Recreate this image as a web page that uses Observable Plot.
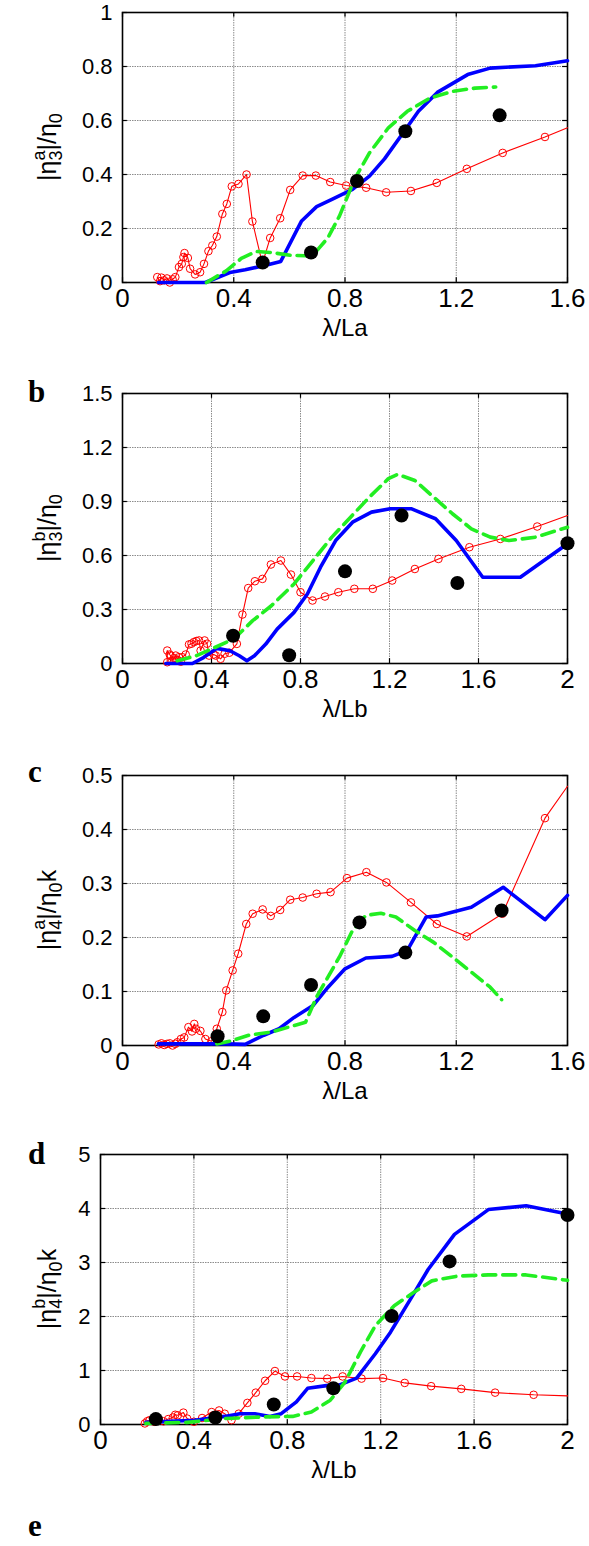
<!DOCTYPE html>
<html><head><meta charset="utf-8">
<script src="https://cdn.jsdelivr.net/npm/d3@7"></script>
<script src="https://cdn.jsdelivr.net/npm/@observablehq/plot@0.6"></script>
<style>
body{margin:0;background:#fff;}
#root{position:relative;width:589px;height:1546px;overflow:hidden;background:#fff}
.panel{position:absolute;left:0}
.letter{position:absolute;font-family:"Liberation Serif","Times New Roman",serif;font-weight:bold;font-size:31px;line-height:1}
</style></head><body><div id="root"></div>
<script>
// ---------- Panel a : |η3a|/η0 vs λ/La ----------
const aXTicks = [0, 0.4, 0.8, 1.2, 1.6];
const aYTicks = [0, 0.2, 0.4, 0.6, 0.8, 1];
const aBlueX = [0.129,0.298,0.386,0.441,0.508,0.569,0.644,0.698,0.753,0.827,0.888,0.942,1.017,1.064,1.132,1.241,1.322,1.485,1.6];
const aBlueY = [0,0,0.037,0.047,0.062,0.078,0.228,0.281,0.308,0.345,0.394,0.458,0.566,0.634,0.704,0.770,0.794,0.803,0.821];
const aGreenX = [0.302,0.373,0.427,0.481,0.536,0.603,0.658,0.698,0.739,0.780,0.834,0.888,0.956,1.024,1.105,1.186,1.268,1.342];
const aGreenY = [0,0.043,0.089,0.115,0.111,0.101,0.099,0.117,0.166,0.246,0.382,0.480,0.573,0.634,0.683,0.708,0.720,0.724];
const aRedX = [0.125,0.135,0.14,0.15,0.16,0.17,0.18,0.19,0.203,0.213,0.219,0.223,0.235,0.243,0.261,0.279,0.293,0.309,0.323,0.339,0.359,0.375,0.393,0.417,0.446,0.467,0.503,0.531,0.567,0.603,0.648,0.695,0.747,0.804,0.876,0.948,1.037,1.130,1.238,1.367,1.519];
const aRedY = [0.02,0.005,0.018,0.008,0.015,0.0,0.012,0.02,0.057,0.069,0.094,0.109,0.091,0.051,0.030,0.038,0.069,0.116,0.137,0.170,0.254,0.291,0.356,0.365,0.400,0.226,0.07,0.165,0.238,0.343,0.396,0.396,0.372,0.359,0.351,0.334,0.339,0.369,0.421,0.480,0.539];
const aRedEnd = [1.6, 0.573];
const aDotX = [0.504,0.678,0.843,1.017,1.356];
const aDotY = [0.074,0.111,0.376,0.560,0.619];

// ---------- Panel b : |η3b|/η0 vs λ/Lb ----------
const bXTicks = [0, 0.4, 0.8, 1.2, 1.6, 2];
const bYTicks = [0, 0.3, 0.6, 0.9, 1.2, 1.5];
const bBlueX = [0.195,0.314,0.364,0.424,0.483,0.525,0.559,0.593,0.644,0.695,0.771,0.831,0.890,0.958,1.034,1.119,1.203,1.297,1.407,1.5,1.619,1.788,2.0];
const bBlueY = [0,0,0.033,0.084,0.071,0.043,0.015,0.043,0.108,0.191,0.284,0.386,0.535,0.683,0.785,0.841,0.860,0.860,0.804,0.683,0.479,0.479,0.665];
const bGreenX = [0.246,0.331,0.415,0.5,0.585,0.669,0.771,0.856,0.941,1.025,1.110,1.195,1.237,1.314,1.398,1.483,1.568,1.653,1.737,1.856,2.0];
const bGreenY = [0.015,0.043,0.089,0.136,0.238,0.321,0.442,0.572,0.702,0.813,0.925,1.027,1.051,1.017,0.925,0.832,0.748,0.702,0.683,0.702,0.757];
const bRedX = [0.201,0.201,0.212,0.216,0.224,0.232,0.239,0.247,0.254,0.262,0.269,0.284,0.299,0.31,0.321,0.332,0.344,0.351,0.369,0.38,0.389,0.41,0.419,0.441,0.459,0.48,0.514,0.539,0.565,0.595,0.629,0.667,0.712,0.757,0.800,0.854,0.910,0.970,1.042,1.125,1.212,1.314,1.420,1.559,1.698,1.864];
const bRedY = [0.007,0.072,0.05,0.044,0.017,0.03,0.044,0.02,0.035,0.01,0.035,0.05,0.106,0.11,0.119,0.125,0.128,0.072,0.128,0.11,0.044,0.05,0.044,0.026,0.054,0.06,0.109,0.272,0.419,0.457,0.470,0.550,0.572,0.494,0.396,0.350,0.372,0.396,0.415,0.415,0.461,0.525,0.581,0.646,0.692,0.761];
const bRedEnd = [2.0, 0.822];
const bDotX = [0.497,0.749,1.0,1.254,1.505,2.0];
const bDotY = [0.154,0.046,0.512,0.822,0.447,0.668];

// ---------- Panel c : |η4a|/η0k vs λ/La ----------
const cXTicks = [0, 0.4, 0.8, 1.2, 1.6];
const cYTicks = [0, 0.1, 0.2, 0.3, 0.4, 0.5];
const cBlueX = [0.129,0.373,0.441,0.508,0.563,0.617,0.685,0.739,0.800,0.875,0.969,1.024,1.092,1.132,1.254,1.369,1.519,1.6];
const cBlueY = [0.003,0.003,0.002,0.019,0.031,0.052,0.074,0.108,0.142,0.162,0.165,0.176,0.238,0.240,0.256,0.293,0.233,0.278];
const cGreenX = [0.339,0.386,0.454,0.536,0.617,0.658,0.698,0.739,0.780,0.827,0.875,0.929,0.983,1.051,1.119,1.186,1.254,1.322,1.363];
const cGreenY = [0.003,0.008,0.019,0.025,0.037,0.043,0.090,0.127,0.164,0.213,0.241,0.245,0.238,0.213,0.191,0.164,0.136,0.108,0.085];
const cRedX = [0.13,0.14,0.15,0.16,0.17,0.18,0.19,0.197,0.21,0.222,0.237,0.25,0.258,0.264,0.28,0.298,0.32,0.339,0.359,0.373,0.396,0.416,0.445,0.468,0.504,0.533,0.567,0.603,0.648,0.698,0.748,0.807,0.877,0.949,1.037,1.130,1.238,1.366,1.519];
const cRedY = [0.002,0.004,0.001,0.003,0.004,0.0,0.003,0.006,0.012,0.015,0.034,0.026,0.04,0.031,0.027,0.012,0.008,0.031,0.062,0.102,0.139,0.170,0.225,0.244,0.252,0.240,0.251,0.270,0.274,0.281,0.284,0.310,0.321,0.302,0.265,0.225,0.202,0.244,0.421];
const cRedEnd = [1.6, 0.48];
const cDotX = [0.342,0.506,0.678,0.852,1.017,1.363];
const cDotY = [0.017,0.054,0.112,0.228,0.172,0.250];

// ---------- Panel d : |η4b|/η0k vs λ/Lb ----------
const dXTicks = [0, 0.4, 0.8, 1.2, 1.6, 2];
const dYTicks = [0, 1, 2, 3, 4, 5];
const dBlueX = [0.194,0.403,0.532,0.597,0.661,0.726,0.774,0.839,0.887,0.968,1.016,1.097,1.177,1.242,1.323,1.403,1.516,1.661,1.823,2.0];
const dBlueY = [0.04,0.08,0.15,0.20,0.20,0.15,0.20,0.42,0.67,0.72,0.72,0.86,1.31,1.71,2.29,2.87,3.52,3.98,4.05,3.90];
const dGreenX = [0.194,0.371,0.532,0.694,0.823,0.903,0.984,1.048,1.113,1.177,1.258,1.339,1.419,1.532,1.661,1.823,2.0];
const dGreenY = [0.02,0.04,0.11,0.14,0.15,0.23,0.45,0.79,1.34,1.83,2.20,2.44,2.66,2.75,2.77,2.77,2.67];
const dRedX = [0.19,0.20,0.21,0.23,0.25,0.27,0.29,0.31,0.32,0.331,0.355,0.371,0.40,0.435,0.476,0.508,0.532,0.561,0.592,0.629,0.665,0.705,0.747,0.790,0.842,0.903,0.971,1.037,1.118,1.210,1.303,1.416,1.545,1.690,1.855];
const dRedY = [0.02,0.06,0.08,0.05,0.08,0.06,0.10,0.13,0.18,0.17,0.22,0.11,0.05,0.12,0.23,0.26,0.20,0.08,0.20,0.40,0.59,0.81,0.99,0.89,0.89,0.86,0.85,0.89,0.85,0.86,0.77,0.71,0.66,0.59,0.55];
const dRedEnd = [2.0, 0.53];
const dDotX = [0.237,0.492,0.742,0.997,1.247,1.495,2.0];
const dDotY = [0.10,0.13,0.37,0.67,2.01,3.02,3.88];

const panelLetters = ["b", "c", "d", "e"];
const xLabels = ["λ/La", "λ/Lb", "λ/La", "λ/Lb"];
const yLabelSub = ["3", "3", "4", "4"];
const yLabelSup = ["a", "b", "a", "b"];
const yLabelTail = ["", "", "k", "k"];

// ---------- rendering ----------
const FONT = "'Liberation Sans', Arial, sans-serif";
const W = 589, PH = 270, MT = 22, MB = 80;
const zip = (xs, ys) => xs.map((x, i) => ({x, y: ys[i]}));
const root = document.getElementById("root");

function yLabel(svg, cx, cy, sub, sup, tail) {
  const t = d3.select(svg).append("text")
    .attr("transform", `translate(${cx},${cy}) rotate(-90)`)
    .attr("text-anchor", "middle")
    .attr("font-family", FONT).attr("font-size", 25).attr("fill", "black");
  t.append("tspan").text("|η");
  t.append("tspan").attr("font-size", 18).attr("dy", 6).text(sub);
  t.append("tspan").attr("font-size", 18).attr("dx", -10).attr("dy", -17).text(sup);
  t.append("tspan").attr("dy", 11).text("|/η");
  t.append("tspan").attr("font-size", 18).attr("dy", 6).text("0");
  if (tail) t.append("tspan").attr("dy", -6).text(tail);
}

function panel(i, cfg) {
  const {top, left, right, xTicks, yTicks, blue, green, red, redEnd, dots} = cfg;
  const xMax = xTicks[xTicks.length - 1], yMax = yTicks[yTicks.length - 1];
  const redLine = red.concat([{x: redEnd[0], y: redEnd[1]}]);
  const gridStyle = {stroke: "#5a5a5a", strokeOpacity: 1, strokeWidth: 0.7, strokeDasharray: "1.5,1"};
  const tk = {stroke: "black", strokeWidth: 1.2};
  const svg = Plot.plot({
    width: W, height: MT + PH + MB,
    marginTop: MT, marginBottom: MB, marginLeft: left, marginRight: W - right,
    style: {fontFamily: FONT, background: "transparent", color: "black", overflow: "visible"},
    x: {domain: [0, xMax], axis: null},
    y: {domain: [0, yMax], axis: null},
    marks: [
      Plot.gridX(xTicks.slice(1, -1), gridStyle),
      Plot.gridY(yTicks.slice(1, -1), gridStyle),
      // inward tick marks on all four sides
      Plot.ruleX(xTicks, {x: d => d, y1: 0, y2: yMax * 0.018, ...tk}),
      Plot.ruleX(xTicks, {x: d => d, y1: yMax, y2: yMax * (1 - 0.018), ...tk}),
      Plot.ruleY(yTicks, {y: d => d, x1: 0, x2: xMax * 0.011, ...tk}),
      Plot.ruleY(yTicks, {y: d => d, x1: xMax, x2: xMax * (1 - 0.011), ...tk}),
      Plot.frame({stroke: "black", strokeWidth: 1.6}),
      Plot.text(xTicks, {x: d => d, frameAnchor: "bottom", dy: 24, text: d => String(d), fontSize: 26, fill: "black"}),
      Plot.text(yTicks, {y: d => d, frameAnchor: "left", dx: -10, textAnchor: "end", text: d => String(d), fontSize: 22, fill: "black"}),
      Plot.text([xLabels[i]], {frameAnchor: "bottom", dy: 53, text: d => d, fontSize: 24, fill: "black"}),
      Plot.line(redLine, {x: "x", y: "y", stroke: "#ff0000", strokeWidth: 1.1}),
      Plot.dot(red, {x: "x", y: "y", r: 3.8, stroke: "#ff0000", strokeWidth: 1, fill: "none"}),
      Plot.line(blue, {x: "x", y: "y", stroke: "#0000ff", strokeWidth: 3.6, strokeLinejoin: "round"}),
      Plot.line(green, {x: "x", y: "y", stroke: "#22ee22", strokeWidth: 3.6, strokeDasharray: "13,7"}),
      Plot.dot(dots, {x: "x", y: "y", r: 7, fill: "black", stroke: "none"})
    ]
  });
  yLabel(svg, 56, MT + PH / 2, yLabelSub[i], yLabelSup[i], yLabelTail[i]);
  const div = document.createElement("div");
  div.className = "panel";
  div.style.top = (top - MT) + "px";
  div.appendChild(svg);
  root.appendChild(div);
}

panel(0, {top: 12, left: 122, right: 567, xTicks: aXTicks, yTicks: aYTicks,
  blue: zip(aBlueX, aBlueY), green: zip(aGreenX, aGreenY), red: zip(aRedX, aRedY), redEnd: aRedEnd, dots: zip(aDotX, aDotY)});
panel(1, {top: 393, left: 122, right: 567, xTicks: bXTicks, yTicks: bYTicks,
  blue: zip(bBlueX, bBlueY), green: zip(bGreenX, bGreenY), red: zip(bRedX, bRedY), redEnd: bRedEnd, dots: zip(bDotX, bDotY)});
panel(2, {top: 775, left: 122, right: 567, xTicks: cXTicks, yTicks: cYTicks,
  blue: zip(cBlueX, cBlueY), green: zip(cGreenX, cGreenY), red: zip(cRedX, cRedY), redEnd: cRedEnd, dots: zip(cDotX, cDotY)});
panel(3, {top: 1154, left: 100, right: 567, xTicks: dXTicks, yTicks: dYTicks,
  blue: zip(dBlueX, dBlueY), green: zip(dGreenX, dGreenY), red: zip(dRedX, dRedY), redEnd: dRedEnd, dots: zip(dDotX, dDotY)});

const letterTops = [376, 756, 1138, 1510];
panelLetters.forEach((l, i) => {
  const d = document.createElement("div");
  d.className = "letter";
  d.style.left = "28px";
  d.style.top = letterTops[i] + "px";
  d.textContent = l;
  root.appendChild(d);
});
</script>
</body></html>
